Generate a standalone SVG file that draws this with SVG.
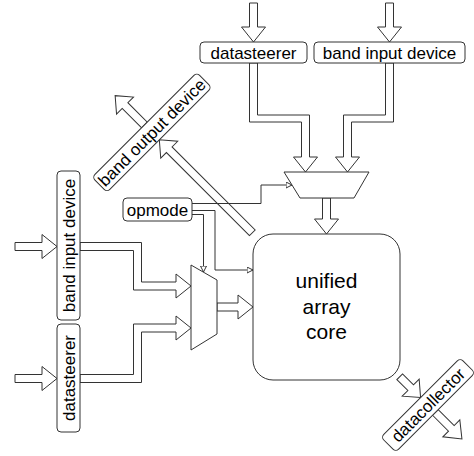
<svg xmlns="http://www.w3.org/2000/svg" width="474" height="456" viewBox="0 0 474 456">
  <style>
    .box { fill: #fff; stroke: #333; stroke-width: 1; }
    .lbl { font-family: "Liberation Sans", Arial, sans-serif; font-size: 17px; fill: #000; text-anchor: middle; }
    .core { font-family: "Liberation Sans", Arial, sans-serif; font-size: 21px; fill: #000; text-anchor: middle; }
    .bus { fill: #fff; stroke: #333; stroke-width: 1; stroke-linejoin: miter; }
    .wire { fill: none; stroke: #333; stroke-width: 1; }
    .mux { fill: #fff; stroke: #333; stroke-width: 1; }
  </style>
  <defs>
    <marker id="tri" markerUnits="userSpaceOnUse" markerWidth="8" markerHeight="8" refX="6" refY="3" orient="auto">
      <path d="M0,0 L6,3 L0,6 Z" fill="#fff" stroke="#333" stroke-width="1"/>
    </marker>
  </defs>

  <rect width="474" height="456" fill="#fff"/>

  <!-- buses and control wires -->
  <g id="connectors">
    <!-- top inputs -->
    <polygon class="bus" points="249.5,3 249.5,27 241.5,27 253.5,42 265.5,27 257.5,27 257.5,3"/>
    <polygon class="bus" points="385.5,3 385.5,27 377.5,27 389.5,42 401.5,27 393.5,27 393.5,3"/>
    <!-- top boxes to upper mux -->
    <polygon class="bus" points="249.5,63 249.5,122 301.5,122 301.5,157 293.5,157 305.5,172 317.5,157 309.5,157 309.5,115 257.5,115 257.5,63"/>
    <polygon class="bus" points="393.5,63 393.5,122 351.5,122 351.5,157 359.5,157 347.5,172 335.5,157 343.5,157 343.5,115 385.5,115 385.5,63"/>
    <!-- upper mux to core -->
    <polygon class="bus" points="322.5,198 322.5,219 314.5,219 326.5,234 338.5,219 330.5,219 330.5,198"/>
    <!-- left inputs -->
    <polygon class="bus" points="15,242.5 42,242.5 42,234.5 57,246.5 42,258.5 42,250.5 15,250.5"/>
    <polygon class="bus" points="15,374.5 42,374.5 42,366.5 57,378.5 42,390.5 42,382.5 15,382.5"/>
    <!-- left boxes to left mux -->
    <polygon class="bus" points="80,242.5 141.5,242.5 141.5,282 176,282 176,274 191,286 176,298 176,290 133.5,290 133.5,250.5 80,250.5"/>
    <polygon class="bus" points="80,374.5 133.5,374.5 133.5,324 176,324 176,316 191,328 176,340 176,332 141.5,332 141.5,382.5 80,382.5"/>
    <!-- left mux to core -->
    <polygon class="bus" points="217,303 238,303 238,295 253,307 238,319 238,311 217,311"/>
    <!-- band output device arrows -->
    <g transform="translate(151.9,132.4) rotate(-45)">
      <polygon class="bus" points="-4,-10.5 -4,-38 -12,-38 0,-52 12,-38 4,-38 4,-10.5"/>
      <polygon class="bus" points="-4,142 -4,24.5 -12,24.5 0,10.5 12,24.5 4,24.5 4,142"/>
    </g>
    <!-- datacollector arrows -->
    <g transform="translate(428,405) rotate(-45)">
      <polygon class="bus" points="-4,-40 -4,-24.5 -12,-24.5 0,-10.5 12,-24.5 4,-24.5 4,-40"/>
      <polygon class="bus" points="-4,10.5 -4,33 -12,33 0,48 12,33 4,33 4,10.5"/>
    </g>
    <!-- opmode control lines -->
    <polyline class="wire" points="192,203.5 261,203.5 261,185 292,185" marker-end="url(#tri)"/>
    <polyline class="wire" points="192,210.5 215,210.5 215,270 253,270" marker-end="url(#tri)"/>
    <polyline class="wire" points="192,214.5 203.5,214.5 203.5,272" marker-end="url(#tri)"/>
  </g>

  <g id="datasteerer-top">
    <rect class="box" x="200" y="42" width="107" height="21" rx="4"/>
    <text class="lbl" x="253.5" y="58.5">datasteerer</text>
  </g>
  <g id="band-input-top">
    <rect class="box" x="314" y="42" width="151" height="21" rx="4"/>
    <text class="lbl" x="389.5" y="58.5">band input device</text>
  </g>
  <g id="band-output">
    <g transform="translate(151.9,132.4) rotate(-45)">
      <rect class="box" x="-74" y="-10.5" width="148" height="21" rx="4"/>
      <text class="lbl" x="0" y="6">band output device</text>
    </g>
  </g>
  <g id="opmode">
    <rect class="box" x="123" y="198" width="69" height="23" rx="4"/>
    <text class="lbl" x="157.5" y="215.5">opmode</text>
  </g>
  <g id="band-input-left">
    <rect class="box" x="57" y="171" width="23" height="149" rx="4"/>
    <text class="lbl" transform="translate(74.5,245.5) rotate(-90)" x="0" y="0">band input device</text>
  </g>
  <g id="datasteerer-left">
    <rect class="box" x="57" y="324" width="23" height="108" rx="4"/>
    <text class="lbl" transform="translate(74.5,378) rotate(-90)" x="0" y="0">datasteerer</text>
  </g>
  <g id="mux-top">
    <polygon class="mux" points="284,172 369,172 354,198 300,198"/>
  </g>
  <g id="mux-left">
    <polygon class="mux" points="191,265 217,280 217,334 191,350"/>
  </g>
  <g id="core">
    <rect class="box" x="253" y="234" width="147" height="146" rx="20"/>
    <text class="core" x="326.5" y="288">unified</text>
    <text class="core" x="326.5" y="313.5">array</text>
    <text class="core" x="326.5" y="339">core</text>
  </g>
  <g id="datacollector">
    <g transform="translate(428,405) rotate(-45)">
      <rect class="box" x="-56" y="-10.5" width="112" height="21" rx="4"/>
      <text class="lbl" x="0" y="6">datacollector</text>
    </g>
  </g>
</svg>
